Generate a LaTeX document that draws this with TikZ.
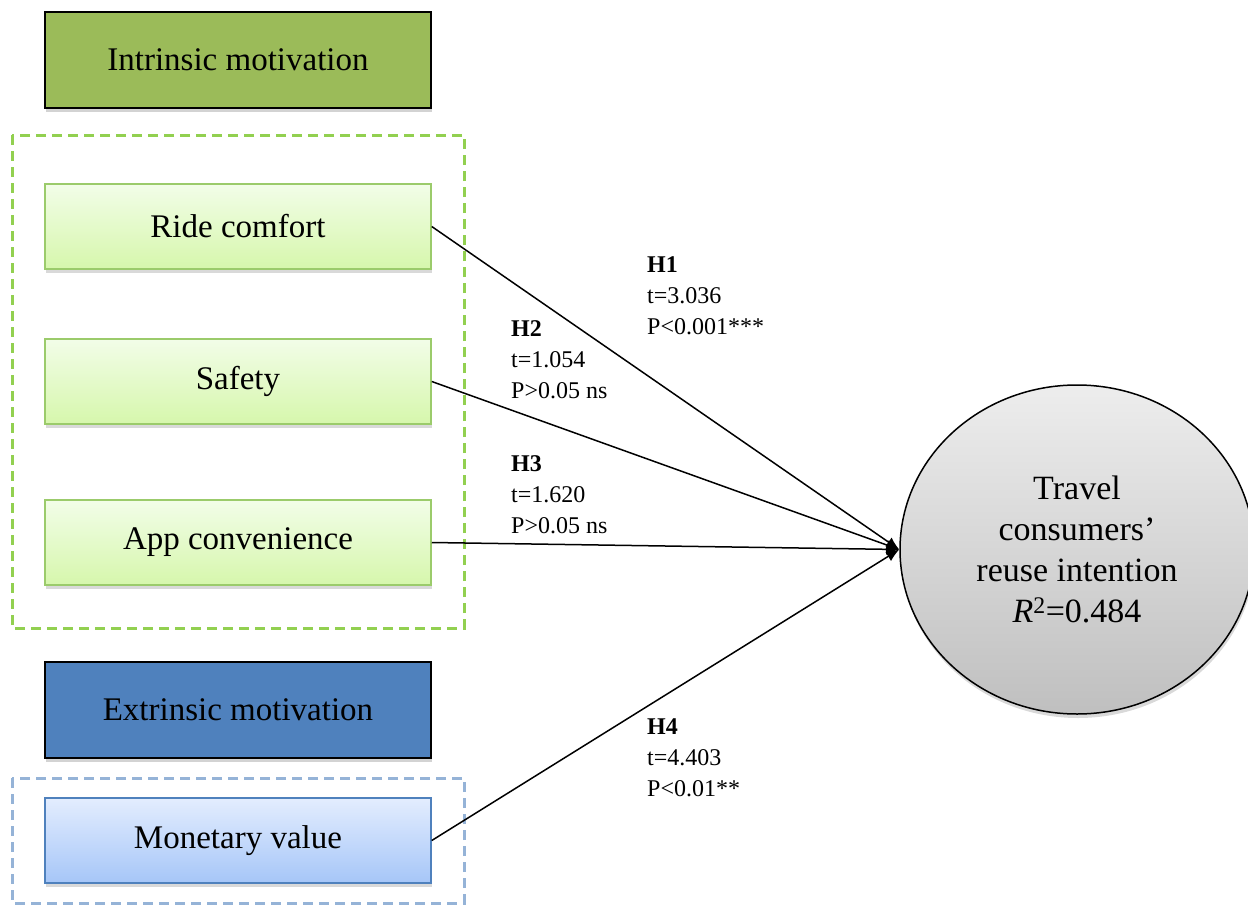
\documentclass[tikz,border=0pt]{standalone}
\usepackage{fontspec}
\setmainfont{Liberation Serif}
\usetikzlibrary{shapes,arrows.meta,shadows}
\usepackage{amsmath}

\definecolor{intrgreen}{HTML}{9BBB59}
\definecolor{extrblue}{HTML}{4F81BD}
\definecolor{dashgreen}{HTML}{92D050}
\definecolor{dashblue}{HTML}{95B3D7}
\definecolor{itemgreen}{HTML}{9BCB6B}
\definecolor{gtop}{HTML}{F2FDE8}
\definecolor{gbot}{HTML}{D6F7AC}
\definecolor{btop}{HTML}{E3EDFE}
\definecolor{bbot}{HTML}{A6C6F8}

\begin{document}
\begin{tikzpicture}[x=1pt,y=-1pt,
        motive/.style={rectangle,draw=black,line width=2pt,minimum width=386pt,minimum height=96pt,inner sep=0pt,font=\fontsize{33}{40}\selectfont,drop shadow={opacity=0.35,shadow xshift=1pt,shadow yshift=-4pt}},
        itemg/.style={rectangle,draw=itemgreen,line width=1.5pt,minimum width=386pt,minimum height=85pt,inner sep=0pt,top color=gtop,bottom color=gbot,font=\fontsize{33}{40}\selectfont,drop shadow={opacity=0.3,shadow xshift=1pt,shadow yshift=-4pt}},
        itemb/.style={itemg,draw=extrblue,top color=btop,bottom color=bbot},
        grpbox/.style={dash pattern=on 10pt off 6pt,line width=3pt},
        hyp/.style={anchor=north west,inner sep=0pt,align=left,font=\fontsize{24}{31}\selectfont},
        arr/.style={-{Latex[length=13pt,width=11pt]},line width=1.5pt}]
        \useasboundingbox (0,0) rectangle (1248,905);

        % 虚线分组框
        \draw[grpbox,draw=dashgreen] (12,135) rectangle (464,628);
        \draw[grpbox,draw=dashblue] (12,778) rectangle (464,903);

        % 动机与变量
        \node[motive,fill=intrgreen] (intr) at (238,59.5) {\raisebox{-2pt}{Intrinsic motivation}};
        \node[itemg] (ride) at (238,226.5) {\raisebox{-2pt}{Ride comfort}};
        \node[itemg] (safety) at (238,381.5) {\raisebox{-2pt}{Safety}};
        \node[itemg] (app) at (238,542.5) {\raisebox{-2pt}{App convenience}};
        \node[motive,fill=extrblue] (extr) at (238,710) {\raisebox{-2pt}{Extrinsic motivation}};
        \node[itemb] (money) at (238,840.5) {\raisebox{-2pt}{Monetary value}};

        % 结果变量
        \node[ellipse,draw=black,line width=1.5pt,minimum width=354pt,minimum height=329pt,inner sep=0pt,top color=black!7,bottom color=black!25,align=center,font=\fontsize{34}{41}\selectfont,drop shadow={opacity=0.3,shadow xshift=1pt,shadow yshift=-4pt}] (reuse) at (1077,549.5) {Travel\\consumers'\\reuse intention\\{\itshape R}\textsuperscript{2}=0.484};

        % 路径
        \draw[arr] (ride.east) -- (reuse.west);
        \draw[arr] (safety.east) -- (reuse.west);
        \draw[arr] (app.east) -- (reuse.west);
        \draw[arr] (money.east) -- (reuse.west);

        % 假设检验结果
        \node[hyp] (h1) at (647,256) {\textbf{H1}\\t=3.036\\P<0.001***};
        \node[hyp] (h2) at (511,320) {\textbf{H2}\\t=1.054\\P>0.05 ns};
        \node[hyp] (h3) at (511,455) {\textbf{H3}\\t=1.620\\P>0.05 ns};
        \node[hyp] (h4) at (647,718) {\textbf{H4}\\t=4.403\\P<0.01**};
    \end{tikzpicture}
\end{document}
